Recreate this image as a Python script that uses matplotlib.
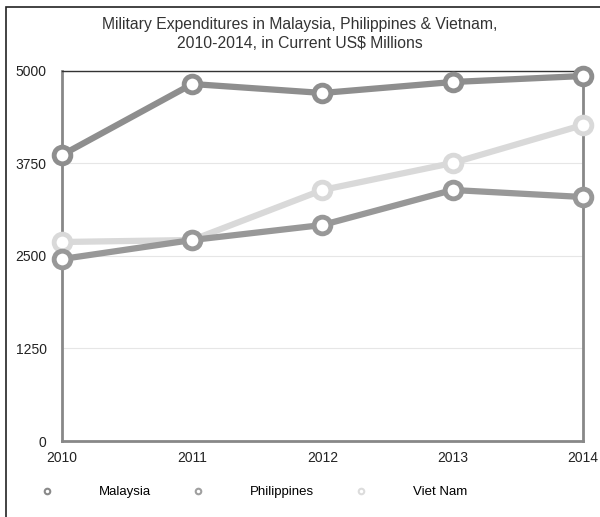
import matplotlib.pyplot as plt
from matplotlib.lines import Line2D
from matplotlib.patches import Rectangle

plt.rcParams['font.family'] = ['Liberation Sans', 'DejaVu Sans']

years = [2010, 2011, 2012, 2013, 2014]
malaysia = [3865, 4824, 4703, 4851, 4932]
philippines = [2459, 2716, 2919, 3392, 3297]
viet_nam = [2689, 2716, 3392, 3757, 4270]
yticks = [0, 1250, 2500, 3750, 5000]

series = [
    ('Malaysia', malaysia, '#8e8e8e', '#8a8a8a'),
    ('Philippines', philippines, '#989898', '#a0a0a0'),
    ('Viet Nam', viet_nam, '#d9d9d9', '#dcdcdc'),
]

fig = plt.figure(figsize=(6, 5.17), dpi=100)
ax = fig.add_axes([0.1033, 0.147, 0.8683, 0.7157])

# lighter series first so the darker ones sit on top
for name, vals, col, _ in reversed(series):
    ax.plot(years, vals, color=col, lw=4.5, marker='o', ms=12,
            mfc='white', mec=col, mew=3.5, solid_joinstyle='round',
            clip_on=False, zorder=3)

ax.set_xlim(2010, 2014)
ax.set_ylim(0, 5000)
ax.set_xticks(years)
ax.set_yticks(yticks)
ax.tick_params(length=0, labelsize=10, colors='#222222')
ax.tick_params(axis='x', pad=7)
ax.tick_params(axis='y', pad=11)
ax.grid(axis='y', color='#e6e6e6', lw=0.8)
ax.set_axisbelow(True)

for s in ['left', 'right', 'bottom']:
    ax.spines[s].set_color('#888888')
    ax.spines[s].set_linewidth(2)
ax.spines['top'].set_color('#333333')
ax.spines['top'].set_linewidth(1)

fig.text(0.5, 0.968, 'Military Expenditures in Malaysia, Philippines & Vietnam,\n'
         '2010-2014, in Current US$ Millions', ha='center', va='top',
         fontsize=11.3, color='#333333', linespacing=1.4)

handles = [Line2D([], [], ls='none', marker='o', ms=4, mfc='white',
                  mec=lc, mew=1.5) for _, _, _, lc in series]
fig.legend(handles, [s[0] for s in series], loc='center left',
           bbox_to_anchor=(0.048, 0.048), ncol=3, frameon=False,
           fontsize=9.5, handlelength=1, handletextpad=3.4, columnspacing=3.1)

fig.add_artist(Rectangle((0.01, -0.05), 1.05, 1.036, transform=fig.transFigure,
                         fill=False, ec='#222222', lw=1.2))

fig.savefig('out.png', dpi=100)
